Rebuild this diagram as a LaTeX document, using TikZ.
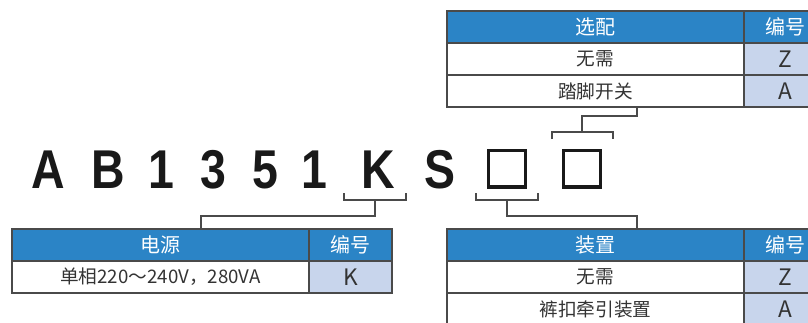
\documentclass[tikz,border=0pt]{standalone}
\usepackage{fontspec}
\setmainfont{Liberation Sans}
\newfontfamily\cjk{Noto Sans CJK SC}
\usetikzlibrary{positioning}
\definecolor{hdrblue}{HTML}{2B84C6}
\definecolor{codeblue}{HTML}{C8D5EC}
\definecolor{rulegray}{HTML}{4A4A4A}
\definecolor{txtgray}{HTML}{333333}
\tikzset{
  cell/.style={draw=rulegray, line width=0.9pt, inner sep=0pt, outer sep=0pt,
    minimum height=24pt, anchor=north west, text=txtgray,
    font=\cjk\fontsize{14}{14}\selectfont},
  namecol/.style={cell, minimum width=222.75pt},
  codecol/.style={cell, minimum width=62.25pt, fill=codeblue,
    font=\cjk\fontsize{17}{17}\selectfont},
  hdr/.style={fill=hdrblue, text=white, font=\cjk\fontsize{15}{15}\selectfont},
  bigch/.style={font=\bfseries\fontsize{41}{41}\selectfont, xscale=0.85,
    anchor=base, inner sep=0pt, text=black!90},
  sqbox/.style={draw=black!90, line width=2.6pt, minimum size=27.4pt, inner sep=0pt},
  brk/.style={draw=rulegray, line width=1.1pt}
}
\begin{document}
\begin{tikzpicture}[x=0.75pt,y=-0.75pt]
\useasboundingbox (0,0) rectangle (808,322);
\clip (0,0) rectangle (808,322);

% model code
\foreach \c/\x/\n in {A/48/cA, B/108/cB, 1/161/cOne, 3/213/cThree, 5/265/cFive, 1/314/cOneb, K/378/cK, S/440/cS}
  \node[bigch] (\n) at (\x,188) {\c};
\node[sqbox] (sq1) at (507,168.5) {};
\node[sqbox] (sq2) at (582,168.5) {};

% options table
\node[namecol,hdr] (selH) at (447,11) {选配};
\node[codecol,hdr] (selHc) at (selH.north east) {编号};
\node[namecol] (selA) at (selH.south west) {无需};
\node[codecol] (selAc) at (selA.north east) {Z};
\node[namecol] (selB) at (selA.south west) {踏脚开关};
\node[codecol] (selBc) at (selB.north east) {A};

% power table
\node[namecol,hdr] (pwrH) at (12,229) {电源};
\node[codecol,hdr] (pwrHc) at (pwrH.north east) {编号};
\node[namecol] (pwrA) at (pwrH.south west) {单相220～240V，280VA};
\node[codecol] (pwrAc) at (pwrA.north east) {K};

% device table
\node[namecol,hdr] (devH) at (447,229) {装置};
\node[codecol,hdr] (devHc) at (devH.north east) {编号};
\node[namecol] (devA) at (devH.south west) {无需};
\node[codecol] (devAc) at (devA.north east) {Z};
\node[namecol] (devB) at (devA.south west) {裤扣牵引装置};
\node[codecol] (devBc) at (devB.north east) {A};

% brackets
\draw[brk] (344,193) |- (406,200) -- (406,193);
\draw[brk] (476,193) |- (538,200) -- (538,193);
\draw[brk] (552,139) |- (613,132) -- (613,139);
\coordinate (kb) at (375,200);
\coordinate (sb) at (507,200);
\coordinate (tb) at (582,132);
\coordinate (kj) at (201,216);
\coordinate (sj) at (637,216);
\coordinate (tj) at (637,116);

% connectors
\draw[brk] (kb) |- (kj) -- (kj |- pwrH.north);
\draw[brk] (sb) |- (sj) -- (sj |- devH.north);
\draw[brk] (tb) |- (tj) -- (tj |- selB.south);
\end{tikzpicture}
\end{document}
